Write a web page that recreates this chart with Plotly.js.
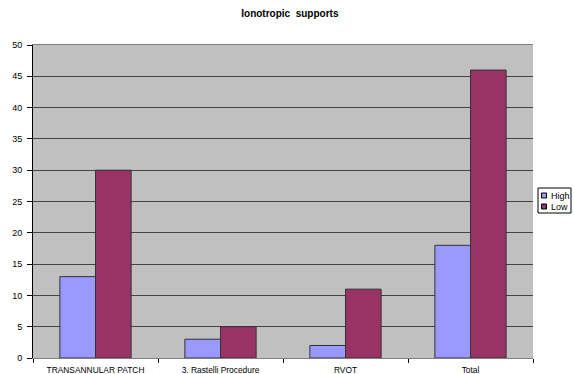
<!DOCTYPE html>
<html><head><meta charset="utf-8">
<script src="https://cdn.plot.ly/plotly-3.0.1.min.js"></script>
<style>html,body{margin:0;padding:0;background:#fff}#chart{width:574px;height:374px}</style>
</head><body><div id="chart"></div>
<script>
const categories = ["TRANSANNULAR PATCH", "3. Rastelli Procedure", "RVOT", "Total"];
const highValues = [13, 3, 2, 18];
const lowValues = [30, 5, 11, 46];
const yTicks = [0, 5, 10, 15, 20, 25, 30, 35, 40, 45, 50];
const seriesNames = ["High", "Low"];
const seriesColors = ["#9999FF", "#993366"];

const fam = "Liberation Sans, Arial, sans-serif";
const traces = [
  {type: "bar", name: seriesNames[0], x: categories, y: highValues,
   marker: {color: seriesColors[0], line: {color: "#333333", width: 1}}},
  {type: "bar", name: seriesNames[1], x: categories, y: lowValues,
   marker: {color: seriesColors[1], line: {color: "#333333", width: 1}}}
];

const W = 574, H = 374;
const m = {l: 33, r: 41, t: 45, b: 16};
const pw = W - m.l - m.r, ph = H - m.t - m.b;
// pixel position -> paper coordinate (relative to plot area)
const px = (x) => (x - m.l) / pw, py = (y) => (H - y - m.b) / ph;
const shapes = [
  {type: "rect", xref: "paper", yref: "paper", x0: px(538), x1: px(571), y0: py(188), y1: py(213),
   line: {color: "#000", width: 1}, fillcolor: "#fff"}
];
const annotations = [];
seriesNames.forEach((n, i) => {
  const cy = 195.5 + i * 11;
  shapes.push({type: "rect", xref: "paper", yref: "paper", x0: px(541.5), x1: px(546.5),
    y0: py(cy - 2.5), y1: py(cy + 2.5), line: {color: "#000", width: 1}, fillcolor: seriesColors[i]});
  annotations.push({xref: "paper", yref: "paper", x: px(548.5), y: py(cy), xanchor: "left", yanchor: "middle",
    text: n, showarrow: false, font: {family: fam, size: 9, color: "#000"}});
});

const layout = {
  width: W, height: H,
  margin: m,
  paper_bgcolor: "#fff", plot_bgcolor: "#C0C0C0",
  font: {family: fam, size: 9, color: "#000"},
  title: {text: "<b>Ionotropic  supports</b>", font: {family: fam, size: 10, color: "#000"},
          x: 0.505, xanchor: "center", y: 0.963, yanchor: "middle"},
  barmode: "group", bargap: 0.43, bargroupgap: 0,
  showlegend: false,
  shapes: shapes, annotations: annotations,
  xaxis: {showgrid: false, showline: true, linecolor: "#808080", linewidth: 1,
          ticks: "outside", ticklen: 4, tickcolor: "#000", tickson: "boundaries",
          mirror: true, tickfont: {family: fam, size: 8.4}, ticklabelstandoff: 4},
  yaxis: {range: [0, 50], tickvals: yTicks, showgrid: true, gridcolor: "#444444", gridwidth: 1,
          showline: true, linecolor: "#000", ticks: "outside", ticklen: 5, tickcolor: "#000",
          zeroline: false, tickfont: {family: fam, size: 9}, ticklabelstandoff: 3}
};
Plotly.newPlot("chart", traces, layout, {displayModeBar: false, staticPlot: true});
</script></body></html>
